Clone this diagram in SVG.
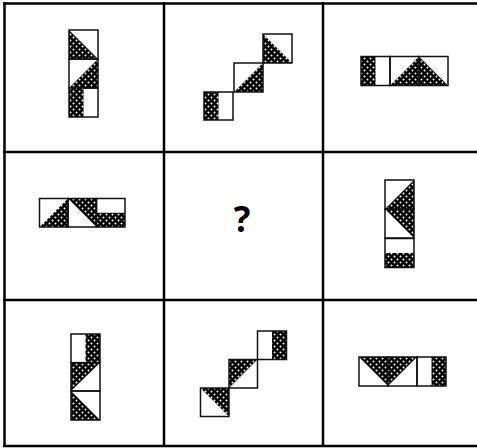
<svg xmlns="http://www.w3.org/2000/svg" width="477" height="448" viewBox="0 0 477 448">
<style>
.grid{stroke:#000;stroke-width:2.5;fill:none}
.sq{fill:none;stroke:#111;stroke-width:1.5}
.blk{fill:url(#dots);stroke:none}
.q{font-family:"Open Sans","DejaVu Sans",sans-serif;font-weight:bold;font-size:35px;fill:#000}
</style>
<defs>
<pattern id="dots" width="6" height="6" patternUnits="userSpaceOnUse">
<rect width="6" height="6" fill="#000"/>
<circle cx="1.5" cy="1.5" r="1" fill="#fff"/>
<circle cx="4.5" cy="4.5" r="1" fill="#fff"/>
</pattern>
</defs>
<g id="grid">
<line class="grid" x1="4.5" y1="2" x2="4.5" y2="447"/>
<line class="grid" x1="164" y1="2" x2="164" y2="447"/>
<line class="grid" x1="323" y1="2" x2="323" y2="447"/>
<line class="grid" x1="3" y1="3.5" x2="477" y2="3.5"/>
<line class="grid" x1="3" y1="152" x2="477" y2="152"/>
<line class="grid" x1="3" y1="300" x2="477" y2="300"/>
<line class="grid" x1="3" y1="446" x2="477" y2="446" stroke="#444"/>
</g>
<g id="cell1">
<polygon class="blk" points="69,30 69,59 98,59"/>
<rect class="sq" x="69" y="30" width="29" height="29"/>
<polygon class="blk" points="98,59 98,88 69,88"/>
<rect class="sq" x="69" y="59" width="29" height="29"/>
<rect class="blk" x="69" y="88" width="14.5" height="29"/>
<rect class="sq" x="69" y="88" width="29" height="29"/>
</g>
<g id="cell2">
<polygon class="blk" points="263,34 263,63 292,63"/>
<rect class="sq" x="263" y="34" width="29" height="29"/>
<polygon class="blk" points="263,63 263,92 234,92"/>
<rect class="sq" x="234" y="63" width="29" height="29"/>
<rect class="blk" x="204" y="92" width="14.5" height="28"/>
<rect class="sq" x="204" y="92" width="29" height="28"/>
</g>
<g id="cell3">
<rect class="blk" x="361" y="56.5" width="14.5" height="29"/>
<rect class="sq" x="361" y="56.5" width="29" height="29"/>
<polygon class="blk" points="419,56.5 419,85.5 390,85.5"/>
<rect class="sq" x="390" y="56.5" width="29" height="29"/>
<polygon class="blk" points="419,56.5 419,85.5 448,85.5"/>
<rect class="sq" x="419" y="56.5" width="29" height="29"/>
</g>
<g id="cell4">
<polygon class="blk" points="68,198.5 68,227 39.5,227"/>
<rect class="sq" x="39.5" y="198.5" width="28.5" height="28.5"/>
<polygon class="blk" points="68,198.5 96.5,198.5 96.5,227"/>
<rect class="sq" x="68" y="198.5" width="28.5" height="28.5"/>
<rect class="blk" x="96.5" y="212.75" width="28.5" height="14.25"/>
<rect class="sq" x="96.5" y="198.5" width="28.5" height="28.5"/>
</g>
<g id="cell5">
<text class="q" x="242" y="232" text-anchor="middle">?</text>
</g>
<g id="cell6">
<polygon class="blk" points="414,180 414,209 385,209"/>
<rect class="sq" x="385" y="180" width="29" height="29"/>
<polygon class="blk" points="385,209 414,209 414,238"/>
<rect class="sq" x="385" y="209" width="29" height="29"/>
<rect class="blk" x="385" y="253" width="29" height="14.5"/>
<rect class="sq" x="385" y="238.5" width="29" height="29"/>
</g>
<g id="cell7">
<rect class="blk" x="85.5" y="334" width="14.5" height="28.7"/>
<rect class="sq" x="71" y="334" width="29" height="28.7"/>
<polygon class="blk" points="71,362.7 100,362.7 71,391"/>
<rect class="sq" x="71" y="362.7" width="29" height="28.3"/>
<polygon class="blk" points="71,391 71,420 100,420"/>
<rect class="sq" x="71" y="391" width="29" height="29"/>
</g>
<g id="cell8">
<rect class="blk" x="272" y="331" width="14.5" height="28.5"/>
<rect class="sq" x="257.5" y="331" width="29" height="28.5"/>
<polygon class="blk" points="229,359.5 257.5,359.5 229,388"/>
<rect class="sq" x="229" y="359.5" width="28.5" height="28.5"/>
<polygon class="blk" points="200.5,388 229,388 229,416.5"/>
<rect class="sq" x="200.5" y="388" width="28.5" height="28.5"/>
</g>
<g id="cell9">
<polygon class="blk" points="359,357 388,357 388,386"/>
<rect class="sq" x="359" y="357" width="29" height="29"/>
<polygon class="blk" points="388,357 417,357 388,386"/>
<rect class="sq" x="388" y="357" width="29" height="29"/>
<rect class="blk" x="431.5" y="357" width="14.5" height="29"/>
<rect class="sq" x="417" y="357" width="29" height="29"/>
</g>
</svg>
